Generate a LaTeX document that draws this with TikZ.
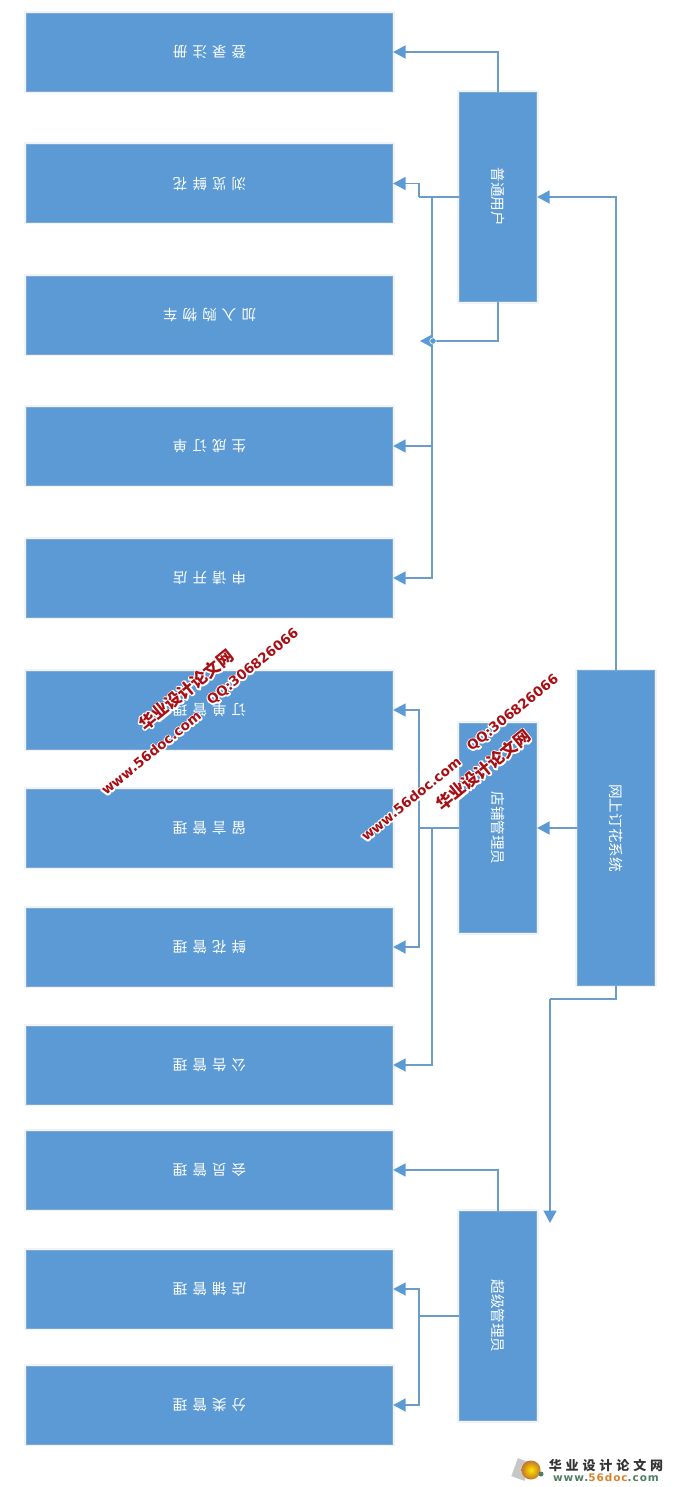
\documentclass[tikz,border=0pt]{standalone}
\usepackage{fontspec}
\usepackage{graphicx}
\usetikzlibrary{arrows.meta}
\setmainfont{Noto Sans CJK SC}
\newfontfamily\wmlatin{DejaVu Sans}
\newfontfamily\logolatin{DejaVu Sans}
\definecolor{boxblue}{HTML}{5B9AD5}
\definecolor{edgeblue}{HTML}{7FA9D3}
\definecolor{haloblue}{HTML}{EEF4FA}
\definecolor{lineblue}{HTML}{6C9DC6}
\definecolor{wmred}{HTML}{A80F14}
\definecolor{logogreen}{HTML}{4F7F62}
\definecolor{logoorange}{HTML}{D9822B}
\newcommand{\flip}[1]{\raisebox{5.4pt}[7pt][7pt]{\rotatebox{180}{#1}}}
\newcommand{\ls}[4]{\flip{#1\hspace{5pt}#2\hspace{5pt}#3\hspace{5pt}#4}}
\newcommand{\lsv}[5]{\flip{#1\hspace{5pt}#2\hspace{5pt}#3\hspace{5pt}#4\hspace{5pt}#5}}
\newcommand{\haloed}[1]{\rlap{\special{pdf:code 2 Tr 2.8 w 1 J 1 j 1 1 1 RG}\textcolor{white}{#1}\special{pdf:code 0 Tr}}#1}
\tikzset{
  x=1pt,y=-1pt,
  blockbase/.style={fill=boxblue,draw=edgeblue,line width=0.7pt,inner sep=0pt,text=white,font=\fontsize{14.6}{15}\selectfont,
    preaction={draw=haloblue,line width=4pt}},
  leftbox/.style={blockbase,minimum width=366.5pt,minimum height=78pt},
  rolebox/.style={blockbase,minimum width=77.5pt,minimum height=209.5pt},
  mainbox/.style={blockbase,minimum width=77.5pt,minimum height=314.5pt},
  conn/.style={draw=lineblue,line width=1.6pt},
  arr/.style={conn,-{Triangle[length=12.5pt,width=13pt,color=boxblue]}},
  wmcn/.style={text=wmred,rotate=39,inner sep=0pt,font=\bfseries\fontsize{16.5}{17}\selectfont},
  wmen/.style={text=wmred,rotate=39,inner sep=0pt,font=\wmlatin\bfseries\fontsize{13.5}{14}\selectfont},
  logocn/.style={inner sep=0pt,text=black!80,font=\bfseries\fontsize{13}{14}\selectfont},
  logoen/.style={inner sep=0pt,font=\logolatin\bfseries\fontsize{10.5}{11}\selectfont},
}
\begin{document}
\begin{tikzpicture}
\useasboundingbox (0,0) rectangle (675,1487);
\fill[white] (0,0) rectangle (675,1487);
% left column
\node[leftbox] (login)  at (209.5,52)   {\ls 登录注册};
\node[leftbox] (browse) at (209.5,183.5){\ls 浏览鲜花};
\node[leftbox] (cart)   at (209.5,315)  {\lsv 加入购物车};
\node[leftbox] (order)  at (209.5,446)  {\ls 生成订单};
\node[leftbox] (apply)  at (209.5,578)  {\ls 申请开店};
\node[leftbox] (omgr)   at (209.5,710)  {\ls 订单管理};
\node[leftbox] (msg)    at (209.5,828)  {\ls 留言管理};
\node[leftbox] (fmgr)   at (209.5,947)  {\ls 鲜花管理};
\node[leftbox] (notice) at (209.5,1065) {\ls 公告管理};
\node[leftbox] (member) at (209.5,1170) {\ls 会员管理};
\node[leftbox] (shop)   at (209.5,1289) {\ls 店铺管理};
\node[leftbox] (categ)  at (209.5,1405) {\ls 分类管理};
% role column
\node[rolebox] (user)  at (498,197)  {\rotatebox{-90}{普通用户}};
\node[rolebox] (owner) at (498,828)  {\rotatebox{-90}{店铺管理员}};
\node[rolebox] (admin) at (498,1316) {\rotatebox{-90}{超级管理员}};
\node[mainbox] (sys)   at (616,828)  {\rotatebox{-90}{网上订花系统}};
% helper coordinates
\coordinate (uj)  at (419,197);
\coordinate (ub)  at (432,197);
\coordinate (ufree) at (420,341);
\coordinate (cross) at (433,341);
\coordinate (oj)  at (419,828);
\coordinate (ob)  at (432,828);
\coordinate (aj)  at (419,1316);
\coordinate (sysdown) at (616,999);
\coordinate (adminfree) at (550,1223);
\coordinate (sysdownl) at (550,999);
% connectors
\draw[arr] (user.north) |- (login.east);
\draw[conn] (user.west) -- (uj);
\draw[arr] (uj) |- (browse.east);
\draw[arr] (ub) |- (order.east);
\draw[arr] (ub) |- (apply.east);
\draw[arr] (user.south) |- (ufree);
\draw[fill=boxblue,draw=white,line width=0.6pt] (cross) circle (3.2pt);
\draw[arr] (sys.north) |- (user.east);
\draw[arr] (sys.west) -- (owner.east);
\draw[conn] (sys.south) -- (sysdown) -- (sysdownl);
\draw[arr] (sysdownl) -- (adminfree);
\draw[conn] (owner.west) -- (oj);
\draw[arr] (oj) |- (omgr.east);
\draw[arr] (oj) |- (fmgr.east);
\draw[arr] (ob) |- (notice.east);
\draw[arr] (admin.north) |- (member.east);
\draw[conn] (admin.west) -- (aj);
\draw[arr] (aj) |- (shop.east);
\draw[arr] (aj) |- (categ.east);
% logo
\fill[black!22,rotate around={-20:(521,1470)}] (514,1460) rectangle (528,1479);
\shade[inner color=yellow!80!orange,outer color=logoorange!90!black] (531,1470) circle (9.5pt);
\fill[logogreen] (541,1474) circle (2.5pt);
\node[logocn] (l1) at (606,1465.5) {\addfontfeature{LetterSpace=30}华业设计论文网};
\node[logoen] (l2) at (606,1477.5) {\addfontfeature{LetterSpace=9}\textcolor{logogreen}{www.}\textcolor{logoorange}{56doc}\textcolor{logogreen}{.com}};
% watermarks
\node[wmcn] (w1) at (186,690) {\haloed{华业设计论文网}};
\node[wmen] (w2) at (151,753) {\haloed{www.56doc.com}};
\node[wmen] (w3) at (253,667) {\haloed{QQ:306826066}};
\node[wmcn] (w4) at (483,770) {\haloed{华业设计论文网}};
\node[wmen] (w5) at (411,799) {\haloed{www.56doc.com}};
\node[wmen] (w6) at (513,713) {\haloed{QQ:306826066}};
\end{tikzpicture}
\end{document}
